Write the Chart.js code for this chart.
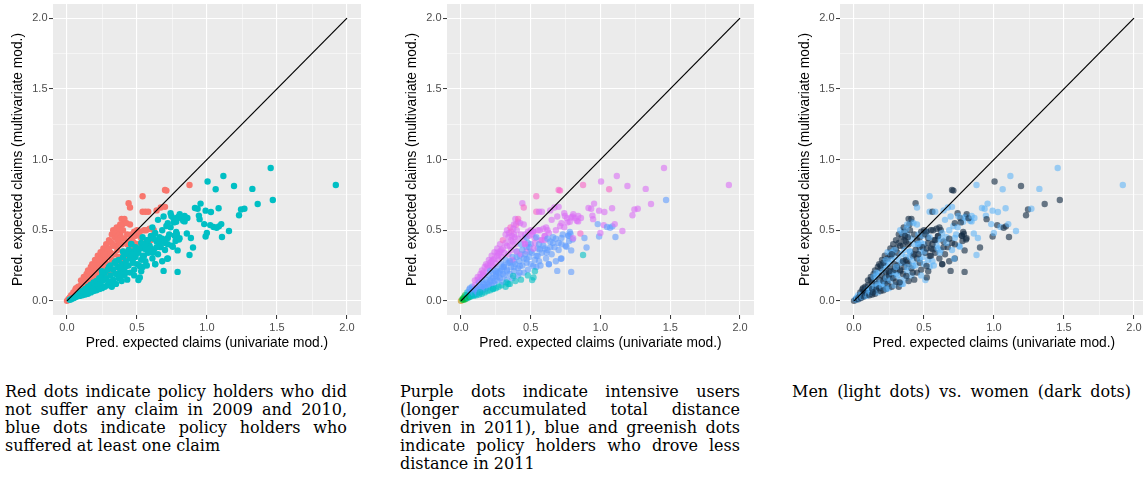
<!DOCTYPE html>
<html><head><meta charset="utf-8">
<script src="https://cdn.jsdelivr.net/npm/chart.js@4/dist/chart.umd.min.js"></script>
<style>
html,body{margin:0;padding:0;background:#fff;width:1143px;height:477px;overflow:hidden;position:relative;}
canvas{position:absolute;top:0;}
.cap{position:absolute;font-family:'DejaVu Serif',serif;color:#000;line-height:18px;font-size:16px;}
.cap .ln{white-space:nowrap;}
.cap .ln.j{display:flex;justify-content:space-between;}
</style></head><body>
<canvas id="c1" width="370" height="360" style="left:0px"></canvas>
<canvas id="c2" width="370" height="360" style="left:394px"></canvas>
<canvas id="c3" width="370" height="360" style="left:787px"></canvas>
<div class="cap" style="left:5px;top:383px;width:342px">
<div class="ln j">Red dots indicate policy holders who did</div>
<div class="ln j">not suffer any claim in 2009 and 2010,</div>
<div class="ln j">blue dots indicate policy holders who</div>
<div class="ln">suffered at least one claim</div>
</div>
<div class="cap" style="left:400px;top:383px;width:340px">
<div class="ln j">Purple dots indicate intensive users</div>
<div class="ln j">(longer accumulated total distance</div>
<div class="ln j">driven in 2011), blue and greenish dots</div>
<div class="ln j">indicate policy holders who drove less</div>
<div class="ln">distance in 2011</div>
</div>
<div class="cap" style="left:792px;top:383px;width:339px">
<div class="ln j">Men (light dots) vs. women (dark dots)</div>
</div>
<script>
// ---- axis ticks ----
const gridVals = [0, 0.25, 0.5, 0.75, 1, 1.25, 1.5, 1.75, 2];
const majorTicks = [0, 0.5, 1, 1.5, 2];
const diagonalEnds = [0, 2];
const xTitle = 'Pred. expected claims (univariate mod.)';
const yTitle = 'Pred. expected claims (multivariate mod.)';

// ---- policy holders with no claim in 2009-2010 ----
const noClaimX = [
 0.00,0.01,0.015,0.02,0.03,0.03,0.04,0.045,0.05,0.06,
 0.06,0.07,0.08,0.08,0.09,0.10,0.10,0.10,0.11,0.12,
 0.12,0.13,0.14,0.14,0.15,0.15,0.16,0.16,0.17,0.17,
 0.18,0.18,0.18,0.19,0.20,0.20,0.20,0.21,0.21,0.22,
 0.22,0.22,0.23,0.23,0.24,0.24,0.24,0.25,0.25,0.26,
 0.26,0.26,0.27,0.27,0.28,0.28,0.28,0.29,0.29,0.30,
 0.30,0.30,0.31,0.31,0.32,0.32,0.32,0.33,0.33,0.34,
 0.34,0.35,0.35,0.36,0.36,0.37,0.37,0.38,0.38,0.39,
 0.39,0.40,0.40,0.41,0.41,0.42,0.43,0.43,0.44,0.45,
 0.45,0.45,0.46,0.47,0.47,0.48,0.48,0.49,0.50,0.50,
 0.51,0.52,0.53,0.54,0.54,0.55,0.56,0.58,0.59,0.60,
 0.62,0.64,0.565,0.67,0.518,0.70,0.70,0.71,0.875,0.395,
 0.345,0.355,0.365,0.375,0.385,0.26,0.21,0.16,0.12,0.065,
 0.41,0.38,0.36,0.425,0.33,0.29,0.27,0.23,0.19,0.14
];
const noClaimY = [
 0.00,0.012,0.01,0.025,0.02,0.04,0.03,0.06,0.045,0.08,
 0.04,0.065,0.05,0.10,0.08,0.06,0.11,0.145,0.09,0.17,
 0.075,0.13,0.10,0.19,0.15,0.215,0.12,0.18,0.24,0.10,
 0.15,0.20,0.26,0.23,0.12,0.18,0.29,0.25,0.215,0.16,
 0.28,0.32,0.20,0.245,0.14,0.30,0.345,0.19,0.265,0.23,
 0.32,0.37,0.17,0.29,0.21,0.35,0.40,0.26,0.31,0.19,
 0.37,0.43,0.24,0.34,0.29,0.41,0.47,0.21,0.50,0.33,
 0.45,0.27,0.39,0.36,0.49,0.42,0.31,0.47,0.28,0.40,
 0.58,0.35,0.50,0.44,0.56,0.32,0.47,0.40,0.69,0.66,
 0.54,0.43,0.47,0.45,0.38,0.49,0.41,0.46,0.50,0.40,
 0.47,0.49,0.445,0.74,0.63,0.50,0.63,0.63,0.51,0.43,
 0.50,0.64,0.50,0.66,0.49,0.665,0.785,0.78,0.82,0.54,
 0.48,0.52,0.46,0.51,0.45,0.34,0.27,0.20,0.15,0.09,
 0.58,0.54,0.43,0.55,0.39,0.36,0.33,0.29,0.25,0.17
];
// distance level 0 (least) .. 5 (most intensive)
const noClaimDist = [
 0,1,1,1,2,1,2,2,2,3,
 2,3,2,3,3,3,4,4,3,4,
 3,3,3,4,3,4,3,4,4,3,
 3,4,4,4,3,3,4,4,3,3,
 4,4,3,4,3,4,4,3,4,3,
 4,4,3,4,3,4,4,3,4,3,
 4,5,3,4,3,4,4,3,4,4,
 4,3,4,4,5,4,3,4,3,4,
 4,3,4,4,4,3,4,3,4,5,
 4,4,4,3,3,4,3,4,4,3,
 4,4,4,5,5,4,4,4,4,4,
 4,4,4,4,4,4,5,5,5,5,
 4,5,4,4,4,4,4,4,4,3,
 5,4,4,4,4,4,4,4,4,4
];
const noClaimFemale = [
 1,0,1,0,1,0,1,1,0,1,
 0,1,1,1,0,0,1,1,0,1,
 0,1,0,1,0,1,1,0,1,0,
 1,0,1,1,0,1,1,0,0,1,
 0,1,1,0,1,1,0,1,0,1,
 1,1,0,0,1,0,1,1,0,0,
 1,1,0,1,0,1,1,1,0,0,
 1,0,1,0,1,1,0,0,1,1,
 1,0,1,0,0,1,1,0,1,0,
 0,1,0,1,1,1,0,0,1,0,
 1,0,1,0,0,1,1,0,1,0,
 1,0,1,0,1,0,1,1,0,1,
 0,1,1,0,1,0,1,0,1,1,
 1,0,1,0,1,0,1,0,1,0
];

// ---- policy holders with at least one claim ----
const claimX = [
 0.02,0.03,0.04,0.05,0.06,0.07,0.08,0.09,0.09,0.10,
 0.11,0.11,0.12,0.13,0.13,0.14,0.15,0.15,0.16,0.17,
 0.17,0.18,0.19,0.19,0.20,0.21,0.21,0.22,0.23,0.23,
 0.24,0.25,0.25,0.26,0.27,0.27,0.28,0.29,0.29,0.30,
 0.31,0.31,0.32,0.33,0.33,0.34,0.35,0.35,0.36,0.37,
 0.37,0.38,0.39,0.39,0.40,0.41,0.41,0.42,0.43,0.43,
 0.44,0.45,0.45,0.46,0.47,0.47,0.48,0.49,0.49,0.50,
 0.51,0.51,0.52,0.53,0.53,0.54,0.55,0.55,0.56,0.57,
 0.58,0.59,0.60,0.61,0.62,0.63,0.63,0.64,0.65,0.65,
 0.66,0.67,0.68,0.68,0.69,0.69,0.70,0.71,0.72,0.72,
 0.73,0.74,0.75,0.76,0.77,0.78,0.78,0.79,0.79,0.80,
 0.80,0.805,0.83,0.84,0.856,0.86,0.875,0.885,0.90,0.914,
 0.933,0.942,0.947,0.954,0.98,0.99,0.99,0.999,1.004,1.023,
 1.028,1.047,1.062,1.069,1.083,1.085,1.102,1.107,1.117,1.157,
 1.193,1.229,1.243,1.267,1.324,1.362,1.455,1.47,1.92,0.77,
 0.785,0.775,0.756,0.804,0.72,0.60,0.458,0.565,0.613,0.541,
 0.47,0.518,0.422,0.374,0.339,0.326,0.231,0.136,0.63,0.716,
 0.745,0.763,0.79,0.818,0.84,0.25,0.30,0.35,0.40,0.44,
 0.46,0.50,0.52,0.54,0.56,0.58,0.60,0.62,0.64,0.66,
 0.68,0.70,0.72,0.74,0.61,0.57,0.53,0.48,0.42,0.38
];
const claimY = [
 0.008,0.012,0.018,0.02,0.028,0.03,0.04,0.035,0.055,0.045,
 0.04,0.07,0.055,0.045,0.085,0.065,0.05,0.10,0.08,0.06,
 0.115,0.09,0.07,0.13,0.10,0.075,0.14,0.115,0.085,0.16,
 0.12,0.09,0.18,0.145,0.10,0.20,0.16,0.11,0.22,0.135,
 0.18,0.25,0.10,0.15,0.22,0.27,0.12,0.19,0.24,0.16,
 0.29,0.21,0.14,0.26,0.31,0.18,0.23,0.28,0.15,0.33,
 0.25,0.20,0.30,0.40,0.27,0.35,0.22,0.31,0.38,0.26,
 0.147,0.34,0.166,0.29,0.41,0.24,0.32,0.37,0.28,0.43,
 0.34,0.39,0.46,0.30,0.36,0.26,0.48,0.42,0.573,0.33,
 0.45,0.38,0.28,0.50,0.212,0.597,0.41,0.53,0.30,0.55,
 0.47,0.62,0.39,0.585,0.46,0.487,0.56,0.205,0.357,0.597,
 0.434,0.613,0.566,0.562,0.476,0.587,0.324,0.445,0.378,0.657,
 0.652,0.603,0.578,0.688,0.543,0.638,0.455,0.48,0.844,0.536,
 0.629,0.522,0.79,0.517,0.655,0.527,0.543,0.452,0.883,0.494,
 0.813,0.606,0.646,0.652,0.792,0.685,0.94,0.713,0.82,0.462,
 0.473,0.424,0.383,0.443,0.445,0.457,0.403,0.364,0.34,0.317,
 0.294,0.247,0.247,0.177,0.119,0.131,0.084,0.061,0.259,0.298,
 0.60,0.555,0.59,0.585,0.60,0.21,0.24,0.28,0.35,0.36,
 0.33,0.35,0.37,0.45,0.40,0.43,0.37,0.44,0.38,0.41,
 0.44,0.36,0.40,0.52,0.52,0.25,0.21,0.18,0.20,0.24
];
const claimDist = [
 1,1,1,2,1,2,2,2,3,2,
 2,3,3,2,3,3,2,3,3,2,
 3,3,2,3,3,2,3,3,2,3,
 3,2,3,3,2,3,3,2,3,3,
 3,3,2,3,3,3,2,3,3,3,
 4,3,2,3,3,3,3,3,2,4,
 3,3,3,4,3,4,3,3,3,3,
 2,3,2,3,4,3,3,3,3,4,
 3,3,4,3,3,3,4,3,4,3,
 3,3,3,4,3,4,3,4,3,4,
 3,4,3,4,3,3,4,3,3,4,
 3,4,4,4,5,4,2,3,3,4,
 4,4,4,4,3,4,3,4,4,4,
 4,3,5,3,4,3,4,3,4,4,
 4,4,4,4,4,4,4,3,4,3,
 3,3,3,4,3,4,4,3,3,3,
 3,3,3,2,2,2,2,2,3,3,
 4,4,4,4,4,3,3,3,4,3,
 3,3,4,3,3,4,3,3,3,3,
 3,3,3,4,4,3,2,2,3,3
];
const claimFemale = [
 0,1,0,1,0,1,1,0,1,0,
 1,0,0,1,1,0,1,0,1,0,
 0,1,1,0,0,1,1,0,1,0,
 1,0,1,0,1,0,1,0,1,1,
 0,1,1,0,1,0,0,1,1,0,
 1,0,1,1,0,0,1,0,1,1,
 0,1,1,0,1,0,1,0,1,0,
 0,1,1,0,1,0,1,1,0,1,
 1,0,1,1,0,1,0,1,0,1,
 0,1,1,0,1,0,1,0,1,1,
 0,1,0,1,1,1,0,1,1,0,
 1,1,0,0,0,0,0,0,1,0,
 0,0,1,0,0,0,1,0,1,1,
 0,0,0,1,0,1,0,1,0,0,
 1,1,1,0,0,1,0,1,0,1,
 1,1,0,1,0,1,0,1,0,1,
 0,1,0,1,0,1,0,1,1,0,
 0,1,0,1,0,1,0,1,0,1,
 1,0,1,0,1,1,0,0,1,0,
 1,0,1,0,1,0,1,0,1,0
];

// ---- styling ----
const distPalette = ['rgba(192,140,0,0.6)','rgba(0,186,56,0.6)','rgba(0,191,196,0.6)',
  'rgba(97,156,255,0.6)','rgba(218,112,245,0.6)','rgba(248,100,200,0.6)'];
const sexPalette = ['rgba(86,177,247,0.55)','rgba(19,43,67,0.62)'];
const FONT = "'Liberation Sans', Arial, sans-serif";

const isMajor = v => majorTicks.some(m => Math.abs(m - v) < 1e-9);
const pts = (xs, ys) => xs.map((x, i) => ({x: x, y: ys[i]}));

function axis(title, horizontal) {
  return {
    type: 'linear', min: -0.1, max: 2.1,
    afterBuildTicks: s => { s.ticks = gridVals.map(v => ({value: v})); },
    afterFit: s => {
      if (horizontal) s.height = 45; else s.width = 53;
      s.paddingTop = 0; s.paddingBottom = 0; s.paddingLeft = 0; s.paddingRight = 0;
    },
    border: {display: false},
    grid: {
      color: '#ffffff',
      lineWidth: c => (c.tick && isMajor(c.tick.value)) ? 1.1 : 0.5,
      drawTicks: true, tickLength: 4, tickWidth: 1,
      tickColor: c => (c.tick && isMajor(c.tick.value)) ? '#333333' : 'rgba(0,0,0,0)'
    },
    ticks: {
      autoSkip: false, maxRotation: 0, minRotation: 0, padding: horizontal ? 2 : 1.5,
      color: '#4d4d4d', font: {family: FONT, size: 11},
      callback: v => isMajor(v) ? v.toFixed(1) : ''
    },
    title: {display: true, text: title, color: '#000000',
      font: {family: FONT, size: 13.75},
      padding: horizontal ? {top: 0, bottom: 8.75} : {top: 10, bottom: 0}}
  };
}

const panelBg = {
  id: 'panelBg',
  beforeDraw(chart) {
    const {ctx, chartArea: a} = chart;
    ctx.save(); ctx.fillStyle = '#EBEBEB';
    ctx.fillRect(a.left, a.top, a.right - a.left, a.bottom - a.top);
    ctx.restore();
  }
};

const diagonal = {
  data: diagonalEnds.map(v => ({x: v, y: v})), showLine: true, pointRadius: 0,
  borderColor: '#000000', borderWidth: 1.2, order: 0
};

function makeChart(id, datasets, rightPad) {
  return new Chart(document.getElementById(id), {
    type: 'scatter',
    data: {datasets: [diagonal].concat(datasets)},
    options: {
      responsive: false, animation: false, events: [],
      layout: {padding: {top: 2, right: rightPad, left: 0, bottom: 0}},
      plugins: {legend: {display: false}, tooltip: {enabled: false}},
      scales: {x: axis(xTitle, true), y: axis(yTitle, false)}
    },
    plugins: [panelBg]
  });
}

const allX = noClaimX.concat(claimX);
const allY = noClaimY.concat(claimY);
const allDist = noClaimDist.concat(claimDist);
const allFemale = noClaimFemale.concat(claimFemale);
const R = 3.2;

// Panel 1: claim status
makeChart('c1', [
  {data: pts(claimX, claimY), pointRadius: R, pointBorderWidth: 0,
   pointBackgroundColor: '#00BFC4', order: 1},
  {data: pts(noClaimX, noClaimY), pointRadius: R, pointBorderWidth: 0,
   pointBackgroundColor: '#F8766D', order: 2}
], 9);

// Panel 2: distance driven
makeChart('c2', [
  {data: pts(allX, allY), pointRadius: R, pointBorderWidth: 0,
   pointBackgroundColor: allDist.map(d => distPalette[d] || distPalette[3]), order: 1}
], 10);

// Panel 3: sex
makeChart('c3', [
  {data: pts(allX, allY), pointRadius: R, pointBorderWidth: 0,
   pointBackgroundColor: allFemale.map(f => sexPalette[f] || sexPalette[0]), order: 1}
], 9);

// justified caption lines: words spread over the line width
document.querySelectorAll('.cap .ln.j').forEach(el => {
  const words = el.textContent.trim().split(/\s+/);
  el.textContent = '';
  words.forEach(wd => { const s = document.createElement('span'); s.textContent = wd; el.appendChild(s); });
});
</script>
</body></html>
